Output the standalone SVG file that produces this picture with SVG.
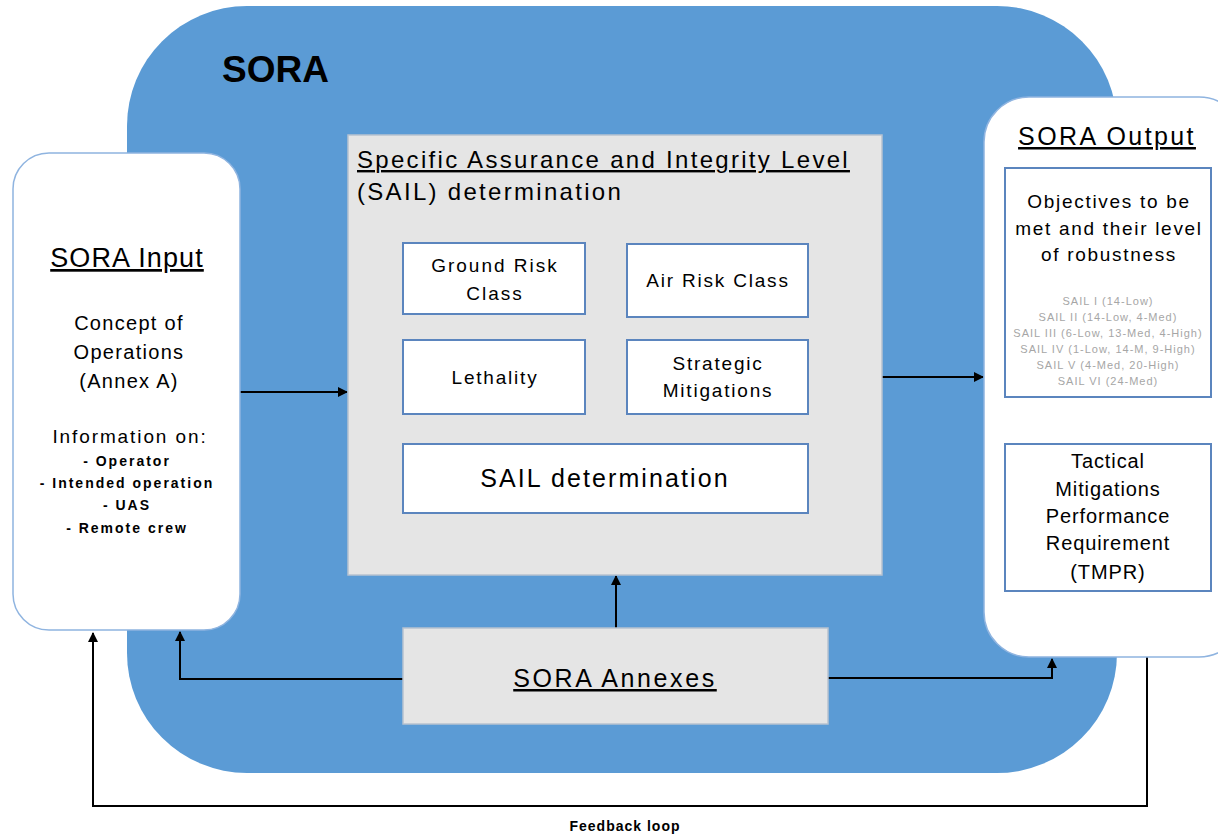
<svg xmlns="http://www.w3.org/2000/svg" width="1218" height="834" viewBox="0 0 1218 834">
<style>
text{font-family:"Liberation Sans",Arial,sans-serif;fill:#000;}
.c{text-anchor:middle;}
.u{text-decoration:underline;}
.inner{fill:#fff;stroke:#5B85BE;stroke-width:2;}
.grey{fill:#E5E5E5;stroke:#B7C2CF;stroke-width:1.5;}
.wb{fill:#fff;stroke:#8FB4E0;stroke-width:1.5;}
.conn{fill:none;stroke:#000;stroke-width:2;}
.bl{fill:none;stroke:#6FA2DC;stroke-width:1.5;}
.sail{fill:#A6A6A6;font-size:11px;letter-spacing:1px;}
.li{font-size:14px;font-weight:bold;letter-spacing:2px;}
</style>
<defs>
<marker id="ah" viewBox="0 0 10 10" refX="9" refY="5" markerWidth="5" markerHeight="5" orient="auto" markerUnits="strokeWidth"><path d="M0,0 L10,5 L0,10 z" fill="#000"/></marker>
<marker id="ahb" viewBox="0 0 10 10" refX="9" refY="5" markerWidth="6" markerHeight="6" orient="auto" markerUnits="strokeWidth"><path d="M0,0 L10,5 L0,10 z" fill="#6FA2DC"/></marker>
</defs>
<rect width="1218" height="834" fill="#fff"/>
<g id="sora">
<rect x="127" y="6" width="990" height="767" rx="120" fill="#5B9BD5"/>
<text x="222" y="82" font-size="37" font-weight="bold">SORA</text>
</g>
<g id="connectors">
<path class="conn" d="M240,392 H347" marker-end="url(#ah)"/>
<path class="conn" d="M882,377 H983" marker-end="url(#ah)"/>
<path class="conn" d="M616,628 V576" marker-end="url(#ah)"/>
<path class="conn" d="M403,679 H180 V632" marker-end="url(#ah)"/>
<path class="conn" d="M828,678 H1052 V659" marker-end="url(#ah)"/>
<path class="conn" d="M1147,657 V806 H93 V633" stroke="#333" marker-end="url(#ah)"/>
<path class="bl" d="M494,314 V339" marker-end="url(#ahb)"/>
<path class="bl" d="M717,317 V339" marker-end="url(#ahb)"/>
<path class="bl" d="M490,414 V443" marker-end="url(#ahb)"/>
<path class="bl" d="M717,414 V443" marker-end="url(#ahb)"/>
</g>
<g id="input">
<rect class="wb" x="13" y="153" width="227" height="477" rx="36"/>
<text class="c u" x="127" y="267" font-size="27" letter-spacing="1.1">SORA Input</text>
<text class="c" x="129" y="330" font-size="20" letter-spacing="1.3">Concept of</text>
<text class="c" x="129" y="359" font-size="20" letter-spacing="1.3">Operations</text>
<text class="c" x="129" y="388" font-size="20" letter-spacing="1.3">(Annex A)</text>
<text class="c" x="130" y="443" font-size="19" letter-spacing="1.9">Information on:</text>
<text class="c li" x="127" y="466">- Operator</text>
<text class="c li" x="127" y="488">- Intended operation</text>
<text class="c li" x="127" y="510">- UAS</text>
<text class="c li" x="127" y="533">- Remote crew</text>
</g>
<g id="sail-box">
<rect class="grey" x="348" y="135" width="534" height="440"/>
<text class="u" x="357" y="168" font-size="24" letter-spacing="2.3">Specific Assurance and Integrity Level</text>
<text x="357" y="200" font-size="24" letter-spacing="2.3">(SAIL) determination</text>
</g>
<g id="ground-risk">
<rect class="inner" x="403" y="243" width="182" height="71"/>
<text class="c" x="495" y="272" font-size="19" letter-spacing="2">Ground Risk</text>
<text class="c" x="495" y="300" font-size="19" letter-spacing="2">Class</text>
</g>
<g id="air-risk">
<rect class="inner" x="627" y="244" width="181" height="73"/>
<text class="c" x="718" y="287" font-size="19" letter-spacing="1.8">Air Risk Class</text>
</g>
<g id="lethality">
<rect class="inner" x="403" y="340" width="182" height="74"/>
<text class="c" x="495" y="384" font-size="19" letter-spacing="1.8">Lethality</text>
</g>
<g id="strategic">
<rect class="inner" x="627" y="340" width="181" height="74"/>
<text class="c" x="718" y="370" font-size="19" letter-spacing="1.8">Strategic</text>
<text class="c" x="718" y="397" font-size="19" letter-spacing="1.8">Mitigations</text>
</g>
<g id="sail-det">
<rect class="inner" x="403" y="444" width="405" height="69"/>
<text class="c" x="605" y="487" font-size="25" letter-spacing="2.1">SAIL determination</text>
</g>
<g id="annexes">
<rect class="grey" x="403" y="628" width="425" height="96"/>
<text class="c u" x="615" y="687" font-size="25" letter-spacing="2.6">SORA Annexes</text>
</g>
<g id="output">
<rect class="wb" x="984" y="97" width="260" height="560" rx="45"/>
<text class="c u" x="1107" y="145" font-size="25" letter-spacing="2.4">SORA Output</text>
</g>
<g id="objectives">
<rect class="inner" x="1005" y="168" width="206" height="229" stroke="#7FA3CF"/>
<text class="c" x="1109" y="208" font-size="19" letter-spacing="1.7">Objectives to be</text>
<text class="c" x="1109" y="235" font-size="19" letter-spacing="1.7">met and their level</text>
<text class="c" x="1109" y="261" font-size="19" letter-spacing="1.7">of robustness</text>
<text class="c sail" x="1108" y="305">SAIL I (14-Low)</text>
<text class="c sail" x="1108" y="321">SAIL II (14-Low, 4-Med)</text>
<text class="c sail" x="1108" y="337">SAIL III (6-Low, 13-Med, 4-High)</text>
<text class="c sail" x="1108" y="353">SAIL IV (1-Low, 14-M, 9-High)</text>
<text class="c sail" x="1108" y="369">SAIL V (4-Med, 20-High)</text>
<text class="c sail" x="1108" y="385">SAIL VI (24-Med)</text>
</g>
<g id="tmpr">
<rect class="inner" x="1005" y="444" width="206" height="147" stroke="#7FA3CF"/>
<text class="c" x="1108" y="468" font-size="20" letter-spacing="0.9">Tactical</text>
<text class="c" x="1108" y="496" font-size="20" letter-spacing="0.9">Mitigations</text>
<text class="c" x="1108" y="523" font-size="20" letter-spacing="0.9">Performance</text>
<text class="c" x="1108" y="550" font-size="20" letter-spacing="0.9">Requirement</text>
<text class="c" x="1108" y="579" font-size="20" letter-spacing="0.9">(TMPR)</text>
</g>
<g id="feedback-label">
<text class="c" x="625" y="831" font-size="14" font-weight="bold" letter-spacing="1">Feedback loop</text>
</g>
</svg>
